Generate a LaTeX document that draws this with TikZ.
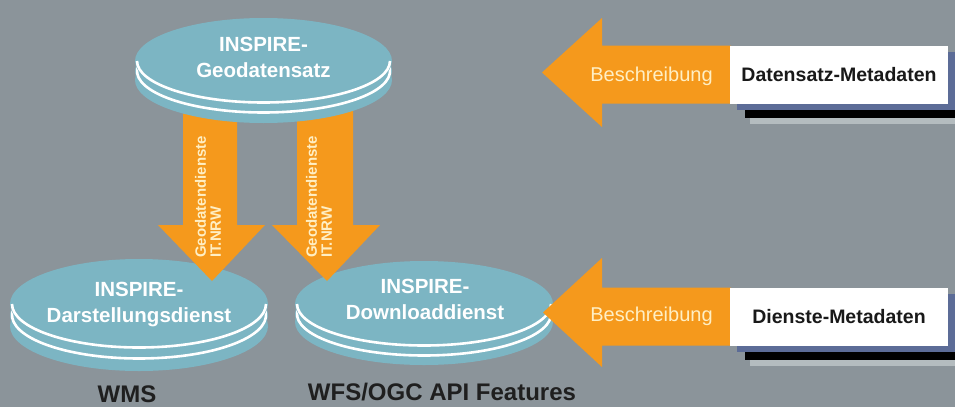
\documentclass[tikz,border=0pt]{standalone}
\usepackage{fontspec}
\setmainfont{Liberation Sans}
\usepackage{tikz}

\definecolor{hgrau}{HTML}{8B949A}
\definecolor{tuerkis}{HTML}{7CB5C3}
\definecolor{pfeil}{HTML}{F5991C}
\definecolor{creme}{HTML}{FFEFC4}
\definecolor{schatten}{HTML}{5C6C97}
\definecolor{hellgrau}{HTML}{B4BCBF}

\tikzset{
	disk/.style={fill=tuerkis},
	rand/.style={draw=white,line width=2.6pt},
	disktext/.style={text=white,align=center,inner sep=0pt,font=\fontsize{20.5}{26.5}\selectfont\bfseries},
	pfeiltext/.style={text=creme,align=left,rotate=90,anchor=west,inner sep=0pt,font=\fontsize{15}{15}\selectfont\bfseries},
	besch/.style={text=creme,anchor=base,inner sep=0pt,font=\fontsize{20}{24}\selectfont},
	box/.style={fill=white,minimum width=218pt,minimum height=58pt,inner sep=0pt,text=black!90,font=\fontsize{19.5}{22}\selectfont\bfseries},
	unten/.style={text=black!88,anchor=base,inner sep=0pt,font=\fontsize{24}{28}\selectfont\bfseries}
}

% Scheibe: Mitte x, Mitte y, Radius x, Radius y, Versatz 1, Versatz 2
\newcommand{\scheibe}[6]{%
	\fill[disk] (#1,#2+#6) ellipse[x radius=#3,y radius=#4];
	\fill[disk] (#1,#2+#5) ellipse[x radius=#3,y radius=#4];
	\draw[rand] (#1,#2+#5) ++(-8:#3-2 and #4-1.5) arc[start angle=-8,end angle=188,x radius=#3-2,y radius=#4-1.5];
	\fill[disk] (#1,#2) ellipse[x radius=#3,y radius=#4];
	\draw[rand] (#1+#3-2,#2) arc[start angle=0,end angle=180,x radius=#3-2,y radius=#4-1.5];
}

\begin{document}
\begin{tikzpicture}[x=1pt,y=-1pt]
	\fill[hgrau] (0,0) rectangle (955,407);
	\useasboundingbox (0,0) rectangle (955,407);
	% untere Scheiben
	\scheibe{139}{304}{129}{45}{11}{22}
	\scheibe{424}{304}{129}{43}{10}{18}
	% Pfeile nach unten
	\fill[pfeil] (183,110) -- (183,225) -- (158,225) -- (212,281) -- (265,225) -- (237,225) -- (237,110) -- cycle;
	\fill[pfeil] (297,110) -- (297,225) -- (272,225) -- (327,281) -- (380,225) -- (353,225) -- (353,110) -- cycle;
	% obere Scheibe
	\scheibe{263.5}{61}{128.5}{43}{10}{19}
	\node[disktext](a) at (263.5,57.4){INSPIRE-\\Geodatensatz};
	\node[disktext](b) at (139,304.5){INSPIRE-\\Darstellungsdienst};
	\node[disktext](c) at (425,299.4){INSPIRE-\\Downloaddienst};
	\node[pfeiltext](h) at (208,258){Geodatendienste\\IT.NRW};
	\node[pfeiltext](i) at (319,258){Geodatendienste\\IT.NRW};
	% Pfeile nach links
	\fill[pfeil] (731,45.5) -- (602,45.5) -- (602,18) -- (542,72.5) -- (602,127) -- (602,103.5) -- (731,103.5) -- cycle;
	\fill[pfeil] (731,287.5) -- (602,287.5) -- (602,258) -- (543,312.5) -- (602,367) -- (602,345.5) -- (731,345.5) -- cycle;
	% Schatten
	\fill[schatten] (737,52) rectangle (955,110);
	\fill[black] (745,110) rectangle (955,118);
	\fill[hellgrau] (750,118) rectangle (955,124);
	\fill[schatten] (737,294) rectangle (955,352);
	\fill[black] (745,352) rectangle (955,360);
	\fill[hellgrau] (750,360) rectangle (955,366);
	\node[box](d) at (839,74.5){Datensatz-Metadaten};
	\node[box](e) at (839,316.5){Dienste-Metadaten};
	\node[besch](f) at (651.5,81){Beschreibung};
	\node[besch](g) at (651.5,321){Beschreibung};
	\node[unten](j) at (127,402){WMS};
	\node[unten](k) at (442,400){WFS/OGC API Features};
\end{tikzpicture}
\end{document}
